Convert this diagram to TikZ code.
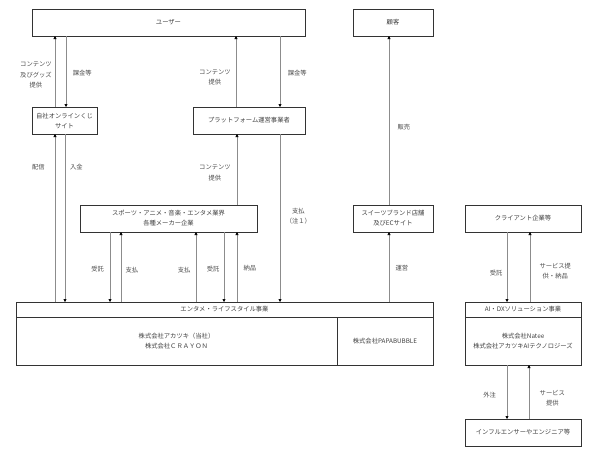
\documentclass[tikz,border=0pt]{standalone}
\usepackage{fontspec}
\setmainfont{Noto Sans CJK JP}
\usetikzlibrary{arrows.meta}
\begin{document}
\begin{tikzpicture}[x=1pt,y=-1pt,
  box/.style={draw=black!80, line width=0.8pt, inner sep=0pt, outer sep=0pt, anchor=north west, align=center, font=\fontsize{6.3}{10}\selectfont, text=black!75},
  arr/.style={draw=black!45, line width=0.6pt, -{Triangle[length=3pt,width=3pt,color=black]}},
  lbl/.style={font=\fontsize{6.3}{10.5}\selectfont, text=black!70, align=center, inner sep=0pt},
]
\useasboundingbox (0,0) rectangle (610,455);
\fill[white] (0,0) rectangle (610,455);

% boxes
\node[box, minimum width=273pt, minimum height=27pt] (user) at (32,9) {ユーザー};
\node[box, minimum width=80pt, minimum height=27pt] (kokyaku) at (353,9) {顧客};
\node[box, minimum width=65pt, minimum height=27pt] (jisha) at (32,107) {自社オンラインくじ\\サイト};
\node[box, minimum width=112pt, minimum height=27pt] (plat) at (193,107) {プラットフォーム運営事業者};
\node[box, minimum width=177pt, minimum height=27pt] (sports) at (80,205) {スポーツ・アニメ・音楽・エンタメ業界\\各種メーカー企業};
\node[box, minimum width=80pt, minimum height=27pt] (sweets) at (353,205) {スイーツブランド店舗\\及びECサイト};
\node[box, minimum width=116pt, minimum height=27pt] (client) at (465,205) {クライアント企業等};
\node[box, minimum width=417pt, minimum height=15pt] (ent) at (16,302) {エンタメ・ライフスタイル事業};
\node[box, minimum width=321pt, minimum height=48pt] (entl) at (16,317) {株式会社アカツキ（当社）\\株式会社ＣＲＡＹＯＮ};
\node[box, minimum width=96pt, minimum height=48pt] (entr) at (337,317) {株式会社PAPABUBBLE};
\node[box, minimum width=116pt, minimum height=15pt] (ai) at (465,302) {AI・DXソリューション事業};
\node[box, minimum width=116pt, minimum height=48pt] (aib) at (465,317) {株式会社Natee\\株式会社アカツキAIテクノロジーズ};
\node[box, minimum width=116pt, minimum height=27pt] (influ) at (465,419) {インフルエンサーやエンジニア等};

% x positions of connectors
\coordinate (xa) at (55,0);
\coordinate (xb) at (66,0);
\coordinate (xc) at (65,0);
\coordinate (xd) at (236,0);
\coordinate (xe) at (280,0);
\coordinate (xf) at (237,0);
\coordinate (xg) at (110,0);
\coordinate (xh) at (121,0);
\coordinate (xi) at (196,0);
\coordinate (xj) at (224,0);
\coordinate (xk) at (389,0);
\coordinate (xl) at (507,0);
\coordinate (xm) at (530,0);
\coordinate (xn) at (529,0);

% connectors
\draw[arr] (jisha.north -| xa) -- node[lbl, pos=.45, anchor=east, xshift=-3pt] (l1) {コンテンツ\\及びグッズ\\提供} (user.south -| xa);
\draw[arr] (user.south -| xb) -- node[lbl, pos=.52, anchor=west, xshift=6.5pt] (l2) {課金等} (jisha.north -| xb);
\draw[arr] (plat.north -| xd) -- node[lbl, pos=.42, anchor=east, xshift=-5pt] (l3) {コンテンツ\\提供} (user.south -| xd);
\draw[arr] (user.south -| xe) -- node[lbl, pos=.52, anchor=west, xshift=7.5pt] (l4) {課金等} (plat.north -| xe);
\draw[arr] (ent.north -| xa) -- node[lbl, pos=.80, anchor=east, xshift=-10pt] (l5) {配信} (jisha.south -| xa);
\draw[arr] (jisha.south -| xc) -- node[lbl, pos=.196, anchor=west, xshift=4.7pt] (l6) {入金} (ent.north -| xc);
\draw[arr] (sports.north -| xf) -- node[lbl, pos=.45, anchor=east, xshift=-6pt] (l7) {コンテンツ\\提供} (plat.south -| xf);
\draw[arr] (plat.south -| xe) -- node[lbl, pos=.49, anchor=west, xshift=5.5pt] (l8) {支払\\（注１）} (ent.north -| xe);
\draw[arr] (sports.south -| xg) -- node[lbl, pos=.53, anchor=east, xshift=-5.7pt] (l9) {受託} (ent.north -| xg);
\draw[arr] (ent.north -| xh) -- node[lbl, pos=.46, anchor=west, xshift=4.2pt] (l10) {支払} (sports.south -| xh);
\draw[arr] (ent.north -| xi) -- node[lbl, pos=.46, anchor=east, xshift=-5.2pt] (l11) {支払} (sports.south -| xi);
\draw[arr] (sports.south -| xj) -- node[lbl, pos=.53, anchor=east, xshift=-4.2pt] (l12) {受託} (ent.north -| xj);
\draw[arr] (ent.north -| xf) -- node[lbl, pos=.49, anchor=west, xshift=6.2pt] (l13) {納品} (sports.south -| xf);
\draw[arr] (sweets.north -| xk) -- node[lbl, pos=.46, anchor=west, xshift=8.2pt] (l14) {販売} (kokyaku.south -| xk);
\draw[arr] (ent.north -| xk) -- node[lbl, pos=.49, anchor=west, xshift=6.2pt] (l15) {運営} (sweets.south -| xk);
\draw[arr] (client.south -| xl) -- node[lbl, pos=.59, anchor=east, xshift=-4.2pt] (l16) {受託} (ai.north -| xl);
\draw[arr] (ai.north -| xm) -- node[lbl, pos=.44, anchor=west, xshift=9.2pt] (l17) {サービス提\\供・納品} (client.south -| xm);
\draw[arr] (aib.south -| xl) -- node[lbl, pos=.56, anchor=east, xshift=-10.7pt] (l18) {外注} (influ.north -| xl);
\draw[arr] (influ.north -| xn) -- node[lbl, pos=.39, anchor=west, xshift=10.4pt] (l19) {サービス\\提供} (aib.south -| xn);
\end{tikzpicture}
\end{document}
